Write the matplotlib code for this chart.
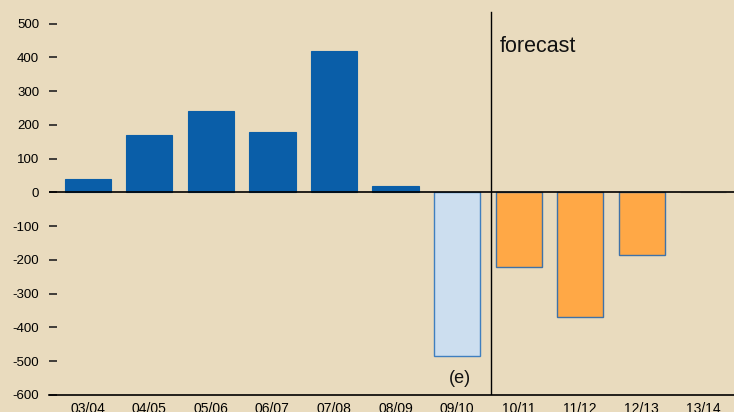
import numpy as np
import matplotlib.pyplot as plt

plt.rcParams['font.family'] = ['Liberation Sans', 'DejaVu Sans']

years = ["03/04", "04/05", "05/06", "06/07", "07/08", "08/09",
         "09/10", "10/11", "11/12", "12/13", "13/14"]
values = [40, 170, 240, 180, 420, 20, -485, -220, -370, -185, 0]
yticks = [-600, -500, -400, -300, -200, -100, 0, 100, 200, 300, 400, 500]

bg = "#E9DBBE"
x = np.arange(len(years))

fig = plt.figure(figsize=(7.34, 4.12), dpi=100, facecolor=bg)
ax = fig.add_axes([0.0668, 0.0413, 0.9332, 0.9587], facecolor=bg)

# actual years, estimate, forecast
ax.bar(x[:6], values[:6], width=0.75, color="#0A5EA8", edgecolor="#0A5EA8", linewidth=0.8)
ax.bar(x[6], values[6], width=0.75, color="#CCDEEF", edgecolor="#3F7FBF", linewidth=1.0)
ax.bar(x[7:10], values[7:10], width=0.75, color="#FFA846", edgecolor="#3F72A8", linewidth=1.0)
ax.bar(x[10], values[10], width=0.75, color="#FFA846", edgecolor="#B8B0A0", linewidth=1.0)

ax.axhline(0, color="black", linewidth=1.2, zorder=3)
ax.plot([6.55, 6.55], [-600, 534], color="black", linewidth=1.0)

ax.text(6.7, 415, "forecast", fontsize=15.5, color="#111111")
ax.text(6.05, -565, "(e)", fontsize=13, color="#111111", ha="center")

ax.set_xlim(-0.63, 10.5)
ax.set_ylim(-600, 570)
ax.set_yticks(yticks)
ax.set_yticklabels([str(v) for v in yticks], fontsize=9.5)
ax.set_xticks(x)
ax.set_xticklabels(years, fontsize=10)
ax.tick_params(axis="y", direction="in", length=6, width=1.2, pad=7, color="#222222")
ax.tick_params(axis="x", length=0, pad=5)

for side in ["left", "right", "top"]:
    ax.spines[side].set_visible(False)
ax.spines["bottom"].set_linewidth(1.2)

fig.savefig("out.png", dpi=100, facecolor=bg)
